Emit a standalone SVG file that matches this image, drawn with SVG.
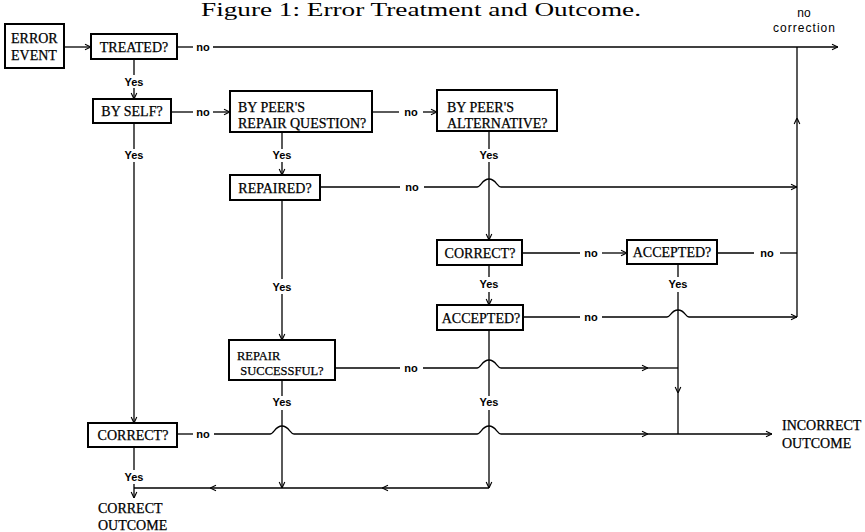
<svg xmlns="http://www.w3.org/2000/svg" width="865" height="532" viewBox="0 0 865 532">
<style>
.box{fill:#fff;stroke:#000;stroke-width:2}
.bt{font-family:"Liberation Serif","Times New Roman",serif;font-size:14px;fill:#000;stroke:#000;stroke-width:0.25}
.bs{font-size:12.5px}
.yn{font-family:"Liberation Sans",Arial,sans-serif;font-weight:bold;font-size:11px;fill:#000;text-anchor:middle}
.sm{font-family:"Liberation Sans",Arial,sans-serif;font-size:12px;fill:#000;text-anchor:middle}
.ln{fill:none;stroke:#000;stroke-width:1.3}
.ar{marker-end:url(#a)}
</style>
<defs>
<marker id="a" viewBox="0 0 10 10" refX="9.5" refY="5" markerWidth="8" markerHeight="8" orient="auto" markerUnits="userSpaceOnUse">
<path d="M2,1.5 L9.5,5 L2,8.5" fill="none" stroke="#000" stroke-width="1.4"/>
</marker>
</defs>
<text x="421" y="16" text-anchor="middle" font-family="Liberation Serif, Times New Roman, serif" font-size="18" textLength="440" lengthAdjust="spacingAndGlyphs">Figure 1: Error Treatment and Outcome.</text>

<g id="connectors">
<path class="ln ar" d="M64,47 H91"/>
<path class="ln" d="M177,47 H193"/><path class="ln ar" d="M213,47 H838"/>
<path class="ln" d="M134,59 V75"/><path class="ln ar" d="M134,88 V99"/>
<path class="ln" d="M171,112 H193"/><path class="ln ar" d="M213,112 H230"/>
<path class="ln" d="M134,123 V149"/><path class="ln ar" d="M134,162 V423"/>
<path class="ln" d="M372,112 H399"/><path class="ln ar" d="M423,112 H437"/>
<path class="ln" d="M282,132 V149"/><path class="ln ar" d="M282,162 V175"/>
<path class="ln" d="M489,131 V149"/><path class="ln ar" d="M489,162 V240"/>
<path class="ln" d="M320,187 H400"/><path class="ln ar" d="M424,187 H477 c4,0 5,-8 12,-8 s8,8 12,8 H797"/>
<path class="ln" d="M282,200 V279"/><path class="ln ar" d="M282,294 V340"/>
<path class="ln" d="M522,253 H580"/><path class="ln ar" d="M602,253 H627"/>
<path class="ln" d="M717,253 H754"/><path class="ln" d="M780,253 H797"/>
<path class="ln ar" d="M797,317 V118"/><path class="ln" d="M797,118 V47"/>
<path class="ln" d="M489,265 V277"/><path class="ln ar" d="M489,292 V305"/>
<path class="ln" d="M678,264 V277"/><path class="ln ar" d="M678,292 V393"/><path class="ln" d="M678,393 V434"/>
<path class="ln" d="M523,317 H580"/><path class="ln ar" d="M602,317 H667 c4,0 4,-7 11,-7 s7,7 11,7 H797"/>
<path class="ln" d="M489,330 V396"/><path class="ln ar" d="M489,410 V488"/>
<path class="ln" d="M335,368 H400"/><path class="ln ar" d="M423,368 H477 c4,0 5,-8 12,-8 s8,8 12,8 H648"/><path class="ln" d="M648,368 H678"/>
<path class="ln" d="M282,380 V396"/><path class="ln ar" d="M282,410 V488"/>
<path class="ln" d="M177,434 H193"/><path class="ln ar" d="M214,434 H270 c4,0 5,-8 12,-8 s8,8 12,8 H477 c4,0 5,-8 12,-8 s8,8 12,8 H648"/><path class="ln ar" d="M648,434 H772"/>
<path class="ln ar" d="M489,488 H382"/><path class="ln ar" d="M382,488 H210"/><path class="ln" d="M210,488 H134"/>
<path class="ln" d="M134,447 V470"/><path class="ln ar" d="M134,484 V498"/>

<text class="yn" x="203" y="51">no</text>
<text class="yn" x="134" y="86">Yes</text>
<text class="yn" x="203" y="116">no</text>
<text class="yn" x="134" y="159">Yes</text>
<text class="yn" x="411" y="116">no</text>
<text class="yn" x="282" y="159">Yes</text>
<text class="yn" x="489" y="159">Yes</text>
<text class="yn" x="412" y="191">no</text>
<text class="yn" x="282" y="291">Yes</text>
<text class="yn" x="591" y="257">no</text>
<text class="yn" x="767" y="257">no</text>
<text class="yn" x="489" y="288">Yes</text>
<text class="yn" x="678" y="288">Yes</text>
<text class="yn" x="591" y="321">no</text>
<text class="yn" x="411" y="372">no</text>
<text class="yn" x="489" y="406">Yes</text>
<text class="yn" x="282" y="406">Yes</text>
<text class="yn" x="203" y="438">no</text>
<text class="yn" x="134" y="481">Yes</text>
<text class="sm" x="804" y="17">no</text>
<text class="sm" x="804" y="32" textLength="62" lengthAdjust="spacing">correction</text>
</g>

<g id="error-event"><rect class="box" x="5" y="24" width="59" height="44"/><text class="bt" x="11" y="43">ERROR</text><text class="bt" x="11" y="60">EVENT</text></g>
<g id="treated"><rect class="box" x="91" y="34" width="86" height="25"/><text class="bt" x="134" y="52" text-anchor="middle">TREATED?</text></g>
<g id="by-self"><rect class="box" x="93" y="99" width="78" height="24"/><text class="bt" x="132" y="116" text-anchor="middle">BY SELF?</text></g>
<g id="by-peer-repair"><rect class="box" x="230" y="91" width="142" height="41"/><text class="bt" x="238" y="112">BY PEER'S</text><text class="bt" x="238" y="128">REPAIR QUESTION?</text></g>
<g id="by-peer-alt"><rect class="box" x="437" y="90" width="120" height="41"/><text class="bt" x="447" y="112">BY PEER'S</text><text class="bt" x="447" y="128">ALTERNATIVE?</text></g>
<g id="repaired"><rect class="box" x="230" y="175" width="90" height="25"/><text class="bt" x="275" y="193" text-anchor="middle">REPAIRED?</text></g>
<g id="correct-mid"><rect class="box" x="437" y="240" width="85" height="25"/><text class="bt" x="480" y="258" text-anchor="middle">CORRECT?</text></g>
<g id="accepted-right"><rect class="box" x="627" y="240" width="90" height="24"/><text class="bt" x="672" y="257" text-anchor="middle">ACCEPTED?</text></g>
<g id="accepted-mid"><rect class="box" x="437" y="305" width="86" height="25"/><text class="bt" x="481" y="323" text-anchor="middle">ACCEPTED?</text></g>
<g id="repair-successful"><rect class="box" x="229" y="340" width="106" height="40"/><text class="bt bs" x="237" y="360">REPAIR</text><text class="bt bs" x="282" y="375" text-anchor="middle">SUCCESSFUL?</text></g>
<g id="correct-left"><rect class="box" x="88" y="423" width="89" height="24"/><text class="bt" x="133" y="440" text-anchor="middle">CORRECT?</text></g>
<g id="incorrect-outcome"><text class="bt" x="782" y="430">INCORRECT</text><text class="bt" x="782" y="448">OUTCOME</text></g>
<g id="correct-outcome"><text class="bt" x="98" y="513">CORRECT</text><text class="bt" x="98" y="530">OUTCOME</text></g>
</svg>
